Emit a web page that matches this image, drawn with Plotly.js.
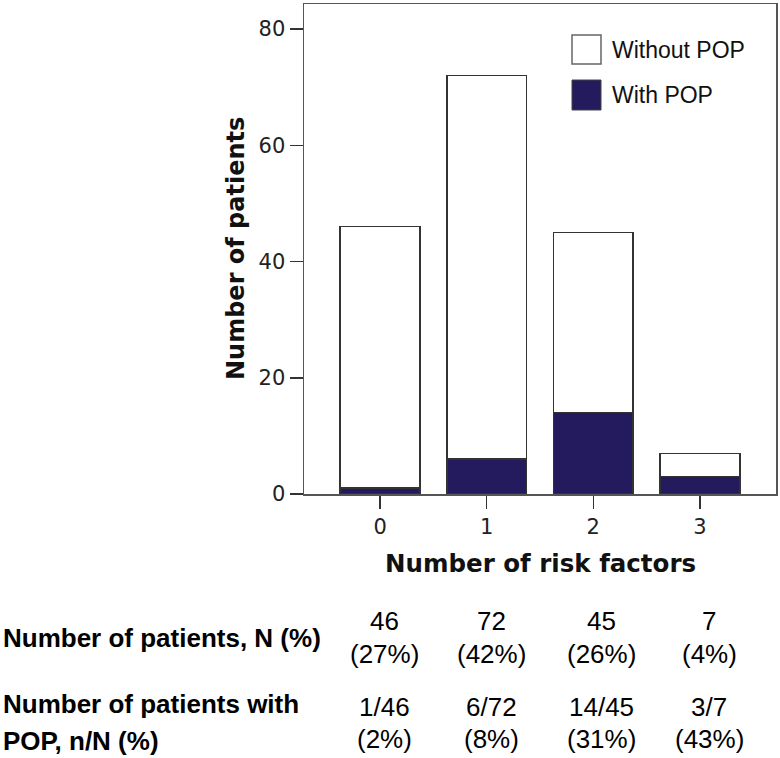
<!DOCTYPE html>
<html>
<head>
<meta charset="utf-8">
<script src="https://cdn.plot.ly/plotly-3.0.1.min.js"></script>
<style>
  html, body { margin: 0; padding: 0; background: #ffffff; }
  #chart { width: 780px; height: 758px; }
</style>
</head>
<body>
<div id="chart"></div>
<script>
// ---- data ----
var categories = [0, 1, 2, 3];
var tickLabels = ['0', '1', '2', '3'];
var withPOP = [1, 6, 14, 3];
var withoutPOP = [45, 66, 31, 4];
var totalN = [46, 72, 45, 7];
var pctOfAll = ['27%', '42%', '26%', '4%'];
var pctWithPOP = ['2%', '8%', '31%', '43%'];
var seriesNames = ['Without POP', 'With POP'];
var rowLabels = ['Number of patients, N (%)', 'Number of patients with', 'POP, n/N (%)'];

// ---- layout geometry (pixels) ----
var W = 780, Hh = 758;
var mL = 304, mR = 4, mT = 4, mB = 264;
var plotW = W - mL - mR, plotH = Hh - mT - mB;
function px(x) { return (x - mL) / plotW; }
function py(y) { return (Hh - mB - y) / plotH; }

var navy = '#241a5e';
var edge = '#333333';

var traces = [
  {
    type: 'bar', x: categories, y: withPOP, name: seriesNames[1],
    width: 0.75,
    marker: { color: navy, line: { color: edge, width: 1.5 } },
    showlegend: false, hoverinfo: 'x+y+name'
  },
  {
    type: 'bar', x: categories, y: withoutPOP, name: seriesNames[0],
    width: 0.75,
    marker: { color: '#ffffff', line: { color: edge, width: 1.5 } },
    showlegend: false, hoverinfo: 'x+y+name'
  }
];

var tickFont = { family: 'DejaVu Sans', size: 21, color: '#222222' };
var titleFont = { family: 'DejaVu Sans', size: 24, color: '#111111', weight: 'bold' };
var tableFont = { family: 'Liberation Sans, Arial, sans-serif', size: 26, color: '#000000' };
var labelFont = { family: 'Liberation Sans, Arial, sans-serif', size: 26, color: '#000000', weight: 'bold' };

var annotations = [];
// axis titles
annotations.push({
  xref: 'paper', yref: 'paper', x: px(540), y: py(563),
  xanchor: 'center', yanchor: 'middle', showarrow: false,
  text: '<b>Number of risk factors</b>', font: { family: 'DejaVu Sans', size: 24.5, color: '#111111' }
});
annotations.push({
  xref: 'paper', yref: 'paper', x: px(236), y: py(249),
  xanchor: 'center', yanchor: 'middle', showarrow: false, textangle: -90,
  text: '<b>Number of patients</b>', font: { family: 'DejaVu Sans', size: 24, color: '#111111' }
});
// legend text
annotations.push({
  xref: 'paper', yref: 'paper', x: px(610), y: py(50),
  xanchor: 'left', yanchor: 'middle', showarrow: false,
  text: seriesNames[0], font: { family: 'Liberation Sans, Arial', size: 23, color: '#111111' }
});
annotations.push({
  xref: 'paper', yref: 'paper', x: px(610), y: py(95),
  xanchor: 'left', yanchor: 'middle', showarrow: false,
  text: seriesNames[1], font: { family: 'Liberation Sans, Arial', size: 23, color: '#111111' }
});

// table below the chart
var colX = [384, 491, 601, 709];
var row1 = [621, 654];
var row2 = [707, 739];
for (var i = 0; i < categories.length; i++) {
  annotations.push({
    xref: 'paper', yref: 'paper', x: px(colX[i]), y: py(row1[0]),
    xanchor: 'center', yanchor: 'middle', showarrow: false,
    text: String(totalN[i]), font: tableFont
  });
  annotations.push({
    xref: 'paper', yref: 'paper', x: px(colX[i]), y: py(row1[1]),
    xanchor: 'center', yanchor: 'middle', showarrow: false,
    text: '(' + pctOfAll[i] + ')', font: tableFont
  });
  annotations.push({
    xref: 'paper', yref: 'paper', x: px(colX[i]), y: py(row2[0]),
    xanchor: 'center', yanchor: 'middle', showarrow: false,
    text: withPOP[i] + '/' + totalN[i], font: tableFont
  });
  annotations.push({
    xref: 'paper', yref: 'paper', x: px(colX[i]), y: py(row2[1]),
    xanchor: 'center', yanchor: 'middle', showarrow: false,
    text: '(' + pctWithPOP[i] + ')', font: tableFont
  });
}
annotations.push({
  xref: 'paper', yref: 'paper', x: px(1), y: py(638),
  xanchor: 'left', yanchor: 'middle', showarrow: false,
  text: '<b>' + rowLabels[0] + '</b>', font: tableFont
});
annotations.push({
  xref: 'paper', yref: 'paper', x: px(1), y: py(704),
  xanchor: 'left', yanchor: 'middle', showarrow: false,
  text: '<b>' + rowLabels[1] + '</b>', font: tableFont
});
annotations.push({
  xref: 'paper', yref: 'paper', x: px(1), y: py(741),
  xanchor: 'left', yanchor: 'middle', showarrow: false,
  text: '<b>' + rowLabels[2] + '</b>', font: tableFont
});

var shapes = [
  { type: 'rect', xref: 'paper', yref: 'paper', x0: px(572), x1: px(601), y0: py(64), y1: py(35),
    fillcolor: '#ffffff', line: { color: '#666666', width: 1.5 } },
  { type: 'rect', xref: 'paper', yref: 'paper', x0: px(572), x1: px(601), y0: py(110), y1: py(80),
    fillcolor: navy, line: { color: '#444444', width: 1 } }
];

var layout = {
  width: W, height: Hh,
  margin: { l: mL, r: mR, t: mT, b: mB, pad: 0 },
  paper_bgcolor: '#ffffff', plot_bgcolor: '#ffffff',
  barmode: 'stack',
  bargap: 0.25,
  showlegend: false,
  xaxis: {
    range: [-0.715, 3.715],
    tickvals: categories, ticktext: tickLabels,
    ticks: 'outside', ticklen: 13, tickwidth: 1.5, tickcolor: '#333333',
    showline: true, linecolor: '#555555', linewidth: 1.5, mirror: true,
    showgrid: false, zeroline: false,
    tickfont: tickFont, fixedrange: true
  },
  yaxis: {
    range: [0, 84.3],
    tickvals: [0, 20, 40, 60, 80],
    ticks: 'outside', ticklen: 13, tickwidth: 1.5, tickcolor: '#333333',
    showline: true, linecolor: '#555555', linewidth: 1.5, mirror: true,
    showgrid: false, zeroline: false,
    tickfont: tickFont, fixedrange: true
  },
  annotations: annotations,
  shapes: shapes
};

Plotly.newPlot('chart', traces, layout, { displayModeBar: false, staticPlot: true });
</script>
</body>
</html>
